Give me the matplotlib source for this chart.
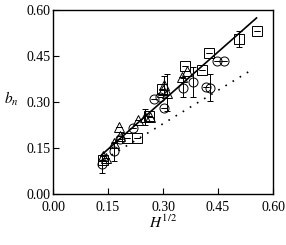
import numpy as np
import matplotlib.pyplot as plt

plt.rcParams['font.family'] = ['Liberation Serif', 'DejaVu Serif']
plt.rcParams['mathtext.fontset'] = 'stix'

# squares
sq_x = [0.557, 0.507, 0.425, 0.405, 0.359, 0.298, 0.263, 0.228, 0.201, 0.137]
sq_y = [0.532, 0.505, 0.461, 0.404, 0.417, 0.343, 0.253, 0.183, 0.183, 0.111]
sq_err = [0.0, 0.025, 0.0, 0.0, 0.0, 0.0, 0.0, 0.0, 0.0, 0.0]

# circles
ci_x = [0.465, 0.446, 0.428, 0.416, 0.381, 0.355, 0.304, 0.292, 0.276, 0.217, 0.183, 0.165, 0.134]
ci_y = [0.434, 0.434, 0.347, 0.350, 0.365, 0.347, 0.281, 0.317, 0.311, 0.214, 0.179, 0.139, 0.098]
ci_err = [0.0, 0.0, 0.045, 0.0, 0.048, 0.03, 0.0, 0.0, 0.0, 0.0, 0.0, 0.03, 0.03]

# triangles
tr_x = [0.365, 0.353, 0.300, 0.302, 0.310, 0.264, 0.251, 0.233, 0.181, 0.184, 0.165, 0.144, 0.135]
tr_y = [0.401, 0.382, 0.340, 0.355, 0.330, 0.252, 0.251, 0.240, 0.217, 0.190, 0.166, 0.116, 0.124]
tr_err = [0.0, 0.0, 0.0, 0.03, 0.06, 0.0, 0.025, 0.0, 0.0, 0.0, 0.0, 0.0, 0.0]

# fitted lines
fit_x = [0.133, 0.555]
fit_y = [0.128, 0.574]
low_x = [0.14, 0.545]
low_y = [0.113, 0.407]

fig = plt.figure(figsize=(2.86, 2.45), dpi=100)
ax = fig.add_axes([53/286, 51/245, 220/286, 184/245])

kw = dict(ls='none', mfc='none', mec='black', ecolor='black', elinewidth=0.7,
          capsize=2.5, markersize=6.5, markeredgewidth=0.7)
ax.errorbar(sq_x, sq_y, yerr=sq_err, marker='s', **kw)
ax.errorbar(ci_x, ci_y, yerr=ci_err, marker='o', **kw)
ax.errorbar(tr_x, tr_y, yerr=tr_err, marker='^', **kw)

ax.plot(fit_x, fit_y, color='black', lw=1.2)
ax.plot(low_x, low_y, color='black', lw=1.2, ls=(0, (1, 4)))

ax.set_xlim(0, 0.6)
ax.set_ylim(0, 0.6)
ax.set_xticks([0.0, 0.15, 0.30, 0.45, 0.60])
ax.set_yticks([0.0, 0.15, 0.30, 0.45, 0.60])
ax.set_xticklabels(['0.00', '0.15', '0.30', '0.45', '0.60'])
ax.set_yticklabels(['0.00', '0.15', '0.30', '0.45', '0.60'])
ax.tick_params(direction='in', length=4, width=0.8, labelsize=10, top=False, right=False)
ax.tick_params(axis='x', pad=5)
ax.tick_params(axis='y', pad=2)
for s in ax.spines.values():
    s.set_linewidth(1.0)

ax.set_xlabel(r'$H^{1/2}$', fontsize=11, labelpad=0)
ax.set_ylabel(r'$b_n$', fontsize=11, rotation=0, labelpad=2)
ax.yaxis.set_label_coords(-0.19, 0.47)

fig.savefig('out.png', dpi=100)
